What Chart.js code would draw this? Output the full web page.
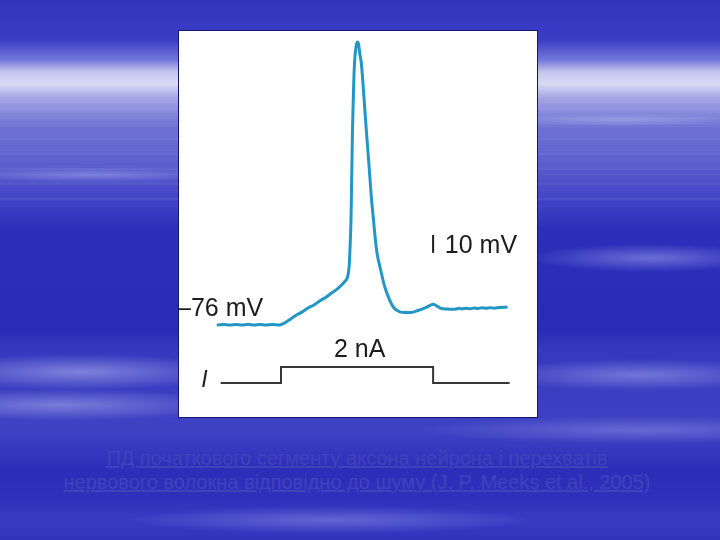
<!DOCTYPE html>
<html>
<head>
<meta charset="utf-8">
<script src="https://cdn.jsdelivr.net/npm/chart.js@4"></script>
<style>
  html, body { margin: 0; padding: 0; }
  body {
    width: 720px; height: 540px; overflow: hidden; position: relative;
    background:
      radial-gradient(ellipse 120px 14px at 650px 258px, rgba(200,205,250,0.4), rgba(200,205,250,0) 100%),
      radial-gradient(ellipse 150px 16px at 640px 375px, rgba(200,205,250,0.4), rgba(200,205,250,0) 100%),
      radial-gradient(ellipse 160px 18px at 80px 372px, rgba(210,215,250,0.45), rgba(210,215,250,0) 100%),
      radial-gradient(ellipse 180px 16px at 60px 405px, rgba(210,215,250,0.4), rgba(210,215,250,0) 100%),
      radial-gradient(ellipse 200px 14px at 330px 520px, rgba(190,195,245,0.3), rgba(190,195,245,0) 100%),
      radial-gradient(ellipse 220px 14px at 640px 430px, rgba(190,195,245,0.3), rgba(190,195,245,0) 100%),
      radial-gradient(ellipse 140px 8px at 90px 175px, rgba(220,225,255,0.3), rgba(220,225,255,0) 100%),
      radial-gradient(ellipse 120px 6px at 620px 120px, rgba(220,225,255,0.3), rgba(220,225,255,0) 100%),
      linear-gradient(to bottom,
        #3234be 0px, #3b3dc6 40px, #7477d8 60px, #c4c6ef 72px, #d8daf4 84px,
        #a4a6e4 98px, #7073d3 125px, #5d60cd 160px, #4144c5 200px, #2d2fbb 228px,
        #2a2cb8 330px, #3639bf 350px, #3f42c3 430px, #2c2eba 470px,
        #2f31bd 500px, #3a3dc3 520px, #3033bc 540px);
  }
  .streaks {
    position: absolute; left: 0; top: 95px; width: 720px; height: 115px;
    background:
      repeating-linear-gradient(to bottom,
        rgba(255,255,255,0) 0px, rgba(255,255,255,0) 13px,
        rgba(220,225,255,0.06) 13px, rgba(220,225,255,0.06) 15px),
      repeating-linear-gradient(to bottom,
        rgba(255,255,255,0) 0px, rgba(255,255,255,0) 7px,
        rgba(220,225,255,0.04) 7px, rgba(220,225,255,0.04) 8px);
  }
  .box {
    position: absolute; left: 178px; top: 30px; width: 358px; height: 386px;
    border: 1px solid #16166a; background: #fff;
  }
  .box canvas { display: block; }
  .caption {
    position: absolute; left: 0; top: 446px; width: 714px; text-align: center;
    font-family: "Liberation Sans", Arial, sans-serif; font-size: 20px; line-height: 24px;
    color: #3f43b9; text-decoration: underline;
  }
</style>
</head>
<body>
<div class="streaks"></div>
<div class="box"><canvas id="trace" width="358" height="386"></canvas></div>
<div class="caption">ПД початкового сегменту аксона нейрона і перехватів<br>нервового волокна відповідно до шуму (J. P. Meeks et al., 2005)</div>

<script>
'use strict';

// membrane potential trace (time in ms, potential in mV)
const timeMs = [
  0, 2, 4, 6, 8, 10, 12, 14, 16, 18, 20.6,
  22, 24, 26, 28, 30, 32, 34, 36, 38, 40, 42.2, 43.3, 43.75,
  44.05, 44.33, 44.5, 44.83, 45.17, 45.5, 46, 46.43, 46.83, 47.33, 47.77,
  48.67, 49.43, 50.33, 51.1, 51.83, 52.33, 53, 54.23, 55.57, 57.23, 58.67,
  60.57, 62.33, 64.33, 66.67, 69, 70.67, 71.67, 72.67, 74.33, 76.33,
  78.9, 80.5, 81.33, 82.8, 84, 85.5, 86.67, 88, 89.33, 90.8, 92, 94, 96.1,
];
const membraneMv = [
  -85.4, -85.2, -85.5, -85.2, -85.4, -85.1, -85.5, -85.2, -85.4, -85.2, -85.4,
  -84.5, -82.4, -80.0, -78.3, -76.0, -74.3, -72.0, -70.0, -67.5, -65.1, -61.4, -58.0, -52.0,
  -41.0, -27.1, -10.4, 22.9, 45.1, 60.1, 69.0, 71.8, 70.7, 64.6, 60.1,
  40.7, 22.9, 3.4, -14.3, -27.1, -36.0, -45.4, -54.9, -64.2, -71.6, -76.0,
  -78.1, -78.5, -78.5, -77.4, -76.0, -74.6, -73.9, -74.6, -76.2, -76.6,
  -76.7, -76.2, -76.5, -76.1, -76.4, -76.0, -76.3, -75.9, -76.1, -75.8, -76.1, -75.7, -75.6,
];

// injected current step (time in ms, current in nA)
const stepTimeMs    = [0.9, 21, 21, 71.7, 71.7, 97.2];
const stepCurrentNa = [0, 0, 2, 2, 0, 0];

// annotation anchors, in data units
const restLevelMv  = -76;
const scaleBarMs   = 71.7;
const scaleBarMv   = [-45.4, -35.4];
const scaleTextMs  = 75.6;
const stepLabelMs  = 47.2;
const stepLabelNa  = 3.25;
const currLabelMs  = -4.5;
const currLabelNa  = -0.5;

const TRACE_COLOR = '#2297c5';
const STEP_COLOR  = '#363636';
const TEXT_COLOR  = '#1c1c1c';
const FONT        = '"Liberation Sans", Arial, sans-serif';

const labelPlugin = {
  id: 'traceLabels',
  afterDatasetsDraw(chart) {
    const { ctx, chartArea, scales } = chart;
    const x = scales.x, yV = scales.yV, yI = scales.yI;
    ctx.save();
    ctx.fillStyle = TEXT_COLOR;
    ctx.textBaseline = 'alphabetic';

    // –76 mV at the left edge
    ctx.font = '25px ' + FONT;
    ctx.textAlign = 'left';
    ctx.fillText('\u201376 mV', chartArea.left - 2, yV.getPixelForValue(restLevelMv) + 8);

    // 10 mV scale bar
    ctx.strokeStyle = TEXT_COLOR;
    ctx.lineWidth = 2;
    ctx.beginPath();
    ctx.moveTo(x.getPixelForValue(scaleBarMs), yV.getPixelForValue(scaleBarMv[0]));
    ctx.lineTo(x.getPixelForValue(scaleBarMs), yV.getPixelForValue(scaleBarMv[1]));
    ctx.stroke();
    ctx.fillText('10 mV', x.getPixelForValue(scaleTextMs), yV.getPixelForValue(scaleBarMv[0]));

    // 2 nA and I
    ctx.textAlign = 'center';
    ctx.fillText('2 nA', x.getPixelForValue(stepLabelMs), yI.getPixelForValue(stepLabelNa));
    ctx.font = 'italic 23px ' + FONT;
    ctx.fillText('I', x.getPixelForValue(currLabelMs), yI.getPixelForValue(currLabelNa));
    ctx.restore();
  },
};

new Chart(document.getElementById('trace'), {
  type: 'line',
  data: {
    datasets: [
      {
        data: timeMs.map((t, i) => ({ x: t, y: membraneMv[i] })),
        yAxisID: 'yV',
        borderColor: TRACE_COLOR,
        borderWidth: 3,
        borderJoinStyle: 'round',
        borderCapStyle: 'round',
        pointRadius: 0,
        // monotone also keeps Chart.js off its fast path, which merges
        // points that fall in the same pixel column on the steep spike
        cubicInterpolationMode: 'monotone',
      },
      {
        data: stepTimeMs.map((t, i) => ({ x: t, y: stepCurrentNa[i] })),
        yAxisID: 'yI',
        borderColor: STEP_COLOR,
        borderWidth: 2,
        pointRadius: 0,
        tension: 0,
      },
    ],
  },
  options: {
    responsive: false,
    animation: false,
    events: [],
    layout: { padding: 0 },
    plugins: { legend: { display: false }, tooltip: { enabled: false } },
    scales: {
      x:  { type: 'linear', display: false, min: -13, max: 106.33 },
      yV: { type: 'linear', display: false, min: -136.56, max: 77.89 },
      yI: { type: 'linear', display: false, min: -4.25, max: 44 },
    },
  },
  plugins: [labelPlugin],
});
</script>
</body>
</html>
